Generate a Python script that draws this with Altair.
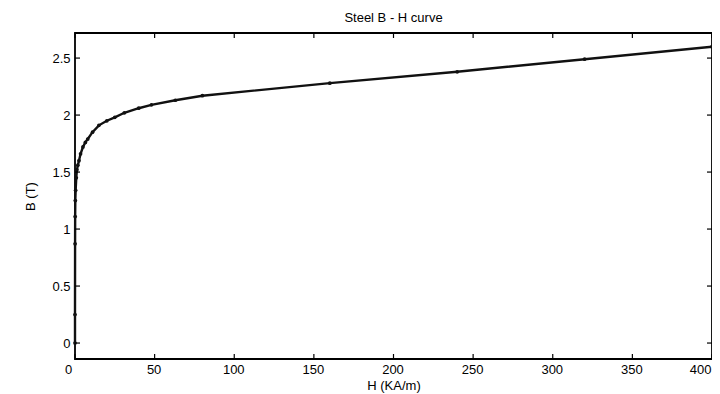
import altair as alt
import pandas as pd

# B-H curve data (H in kA/m, B in T)
H = [0, 0, 0.05, 0.1, 0.2, 0.4, 0.8, 1.2, 1.8, 2.5, 3.5, 5, 6.5, 8, 11, 15,
     20, 25, 31, 40, 48, 63, 80, 160, 240, 320, 400]
B = [0, 0.25, 0.87, 1.11, 1.25, 1.34, 1.45, 1.52, 1.56, 1.60, 1.66, 1.72,
     1.76, 1.79, 1.85, 1.91, 1.95, 1.98, 2.02, 2.06, 2.09, 2.13, 2.17, 2.28,
     2.38, 2.49, 2.60]

x_ticks = [0, 50, 100, 150, 200, 250, 300, 350, 400]
y_ticks = [0, 0.5, 1, 1.5, 2, 2.5]

W, HGT = 637, 326
FONT = "Liberation Sans"

df = pd.DataFrame({"H": H, "B": B})
xt = pd.DataFrame({"v": x_ticks})
yt = pd.DataFrame({"v": y_ticks})

xs = alt.Scale(domain=[0, 400], nice=False, zero=False)
ys = alt.Scale(domain=[-0.14, 2.72], nice=False, zero=False)

curve = alt.Chart(df).mark_line(
    color="#111111", strokeWidth=2.4,
    point=alt.OverlayMarkDef(filled=True, size=14, color="#111111"),
).encode(
    x=alt.X("H:Q", scale=xs, title="H   (KA/m)",
            axis=alt.Axis(values=x_ticks, tickSize=0, domain=False, grid=False,
                          labelPadding=4, titlePadding=3, labelFlush=False,
                          labelAlign={"condition": {"test": "datum.value == 400",
                                                    "value": "right"},
                                      "value": "center"},
                          labelOffset={"condition": {"test": "datum.value == 0",
                                                     "value": -7},
                                       "value": -1})),
    y=alt.Y("B:Q", scale=ys, title="B (T)",
            axis=alt.Axis(values=y_ticks, tickSize=0, domain=False, grid=False,
                          labelPadding=5, titlePadding=14, format="~g")),
    order=alt.Order("idx:Q"),
).transform_window(idx="row_number()")

tick_len = 5
xb = alt.Chart(xt).mark_rule(color="black", strokeWidth=1.2).encode(
    x=alt.X("v:Q", scale=xs), y=alt.value(HGT), y2=alt.value(HGT - tick_len))
xtp = alt.Chart(xt).mark_rule(color="black", strokeWidth=1.2).encode(
    x=alt.X("v:Q", scale=xs), y=alt.value(0), y2=alt.value(tick_len))
yl = alt.Chart(yt).mark_rule(color="black", strokeWidth=1.2).encode(
    y=alt.Y("v:Q", scale=ys), x=alt.value(0), x2=alt.value(tick_len))
yr = alt.Chart(yt).mark_rule(color="black", strokeWidth=1.2).encode(
    y=alt.Y("v:Q", scale=ys), x=alt.value(W), x2=alt.value(W - tick_len))

chart = alt.layer(curve, xb, xtp, yl, yr).properties(
    width=W, height=HGT,
    background="white",
    title=alt.TitleParams("Steel B - H curve", font=FONT, fontSize=13,
                          fontWeight="normal", color="black", offset=7),
    autosize=alt.AutoSizeParams(type="none"),
    padding={"left": 67, "top": 25, "right": 0, "bottom": 35},
).configure_view(
    stroke="black", strokeWidth=1.8
).configure_axis(
    labelFont=FONT, labelFontSize=13, labelColor="black",
    titleFont=FONT, titleFontSize=13, titleColor="black", titleFontWeight="normal",
)

chart.save("out.html", embed_options={"renderer": "svg", "actions": False})
